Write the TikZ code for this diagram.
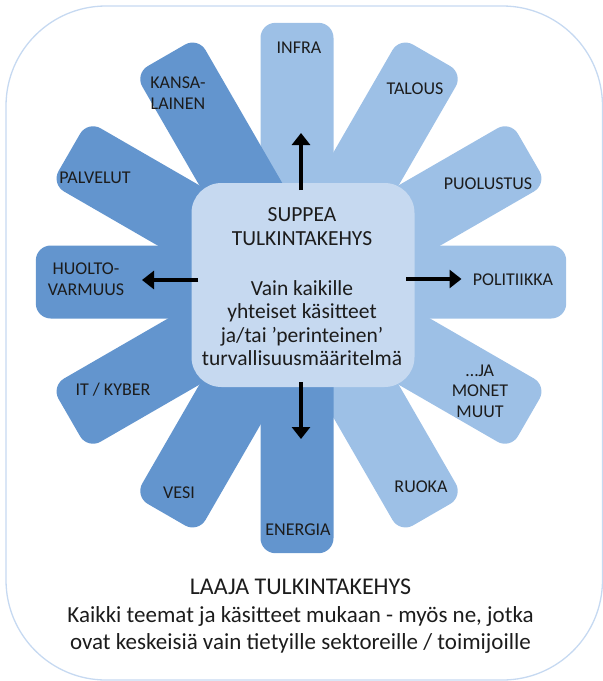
\documentclass[tikz,border=0pt]{standalone}
\usepackage{fontspec}
\setmainfont{Carlito}
\usetikzlibrary{arrows.meta}
\definecolor{darkpetal}{RGB}{99,149,206}
\definecolor{lightpetal}{RGB}{157,192,230}
\definecolor{corebox}{RGB}{198,217,240}
\definecolor{framec}{RGB}{198,217,241}
\definecolor{txt}{RGB}{28,28,28}
\begin{document}
\begin{tikzpicture}[x=1pt,y=-1pt,
  petal/.style={rectangle, rounded corners=15pt, minimum width=265pt, minimum height=73pt, inner sep=0pt, anchor=west},
  lpetal/.style={petal, fill=lightpetal},
  dpetal/.style={petal, fill=darkpetal},
  lbl/.style={font=\fontsize{18}{20.5}\selectfont, text=txt, align=center, inner sep=0pt},
  coretxt/.style={font=\fontsize{21.5}{23.5}\selectfont, text=txt, inner sep=0pt, anchor=base},
  bottxt/.style={font=\fontsize{23}{26}\selectfont, text=txt, inner sep=0pt, anchor=base},
  arr/.style={line width=3.2pt, -{Triangle[length=12pt,width=18pt]}},
]
\useasboundingbox (0,0) rectangle (603,681);
% outer frame
\draw[framec, line width=1.3pt, rounded corners=100pt] (6,6) rectangle (602.5,680);

\coordinate (cv) at (297,288);
\coordinate (ch) at (301,282);
\coordinate (cd) at (299,285);

% light petals
\node[lpetal, rotate=90] (pinfra) at (cv) {};
\node[lpetal, rotate=60] (ptalous) at (cd) {};
\node[lpetal, rotate=30] (ppuol) at (cd) {};
\node[lpetal, rotate=0] (ppol) at (ch) {};
\node[lpetal, rotate=-30] (pmuut) at (cd) {};
\node[lpetal, rotate=-60] (pruoka) at (cd) {};
% dark petals
\node[dpetal, rotate=-90] (penergia) at (cv) {};
\node[dpetal, rotate=-120] (pvesi) at (cd) {};
\node[dpetal, rotate=-150] (pit) at (cd) {};
\node[dpetal, rotate=180] (phuolto) at (ch) {};
\node[dpetal, rotate=150] (ppalv) at (cd) {};
\node[dpetal, rotate=120] (pkansa) at (cd) {};

% centre box
\node[fill=corebox, rounded corners=30pt, minimum width=223pt, minimum height=204pt, inner sep=0pt] (core) at (303,285) {};

% petal labels
\node[lbl] (linfra) at (299,48) {INFRA};
\node[lbl] (ltalous) at (415,89) {TALOUS};
\node[lbl] (lpuol) at (488,184) {PUOLUSTUS};
\node[lbl] (lpol) at (513,280) {POLITIIKKA};
\node[lbl] (lmuut) at (480,391) {…JA\\MONET\\MUUT};
\node[lbl] (lruoka) at (421,487) {RUOKA};
\node[lbl] (lenergia) at (298,530) {ENERGIA};
\node[lbl] (lvesi) at (179,493) {VESI};
\node[lbl] (lit) at (113,390) {IT / KYBER};
\node[lbl] (lhuolto) at (86,279) {HUOLTO-\\VARMUUS};
\node[lbl] (lpalv) at (95,178) {PALVELUT};
\node[lbl] (lkansa) at (178,93) {KANSA-\\LAINEN};

% centre text
\node[coretxt] (c1) at (302,221.5) {SUPPEA};
\node[coretxt] (c2) at (302,245) {TULKINTAKEHYS};
\node[coretxt] (c3) at (302,295) {Vain kaikille};
\node[coretxt] (c4) at (302,318.5) {yhteiset käsitteet};
\node[coretxt] (c5) at (302,342) {ja/tai ’perinteinen’};
\node[coretxt] (c6) at (302,365) {turvallisuusmääritelmä};

% arrows
\coordinate (upS) at (301,190);
\coordinate (upE) at (301,133);
\coordinate (ltS) at (198,280);
\coordinate (ltE) at (142,280);
\coordinate (rtS) at (406,279);
\coordinate (rtE) at (461.5,279);
\coordinate (dnS) at (301,382);
\coordinate (dnE) at (301,439);
\draw[arr] (upS) -- (upE);
\draw[arr] (ltS) -- (ltE);
\draw[arr] (rtS) -- (rtE);
\draw[arr] (dnS) -- (dnE);

% bottom text
\node[bottxt, font=\fontsize{24}{26}\selectfont] (b1) at (300.5,594) {LAAJA TULKINTAKEHYS};
\node[bottxt] (b2) at (300.5,622.5) {Kaikki teemat ja käsitteet mukaan - myös ne, jotka};
\node[bottxt] (b3) at (300.5,649) {ovat keskeisiä vain tietyille sektoreille / toimijoille};
\end{tikzpicture}
\end{document}
